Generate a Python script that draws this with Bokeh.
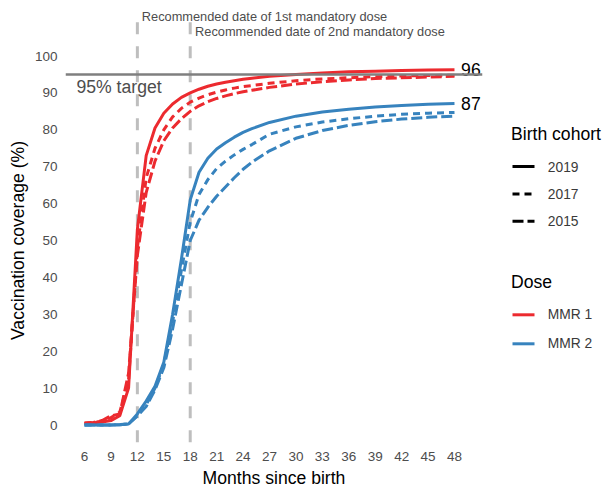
import math
from bokeh.plotting import figure
from bokeh.models import Range1d, Span, FixedTicker
from bokeh.layouts import row
from bokeh.core.properties import value
from bokeh.embed import file_html
from bokeh.resources import INLINE

# ---------------- data ----------------
months = [6, 7, 8, 9, 10, 11, 12, 13, 14, 15, 16, 17, 18, 19, 20, 21, 22, 23,
          24, 25, 27, 30, 33, 36, 39, 42, 45, 48]

mmr1_2019 = [0.5, 0.6, 0.8, 1.2, 2.5, 10, 53, 73, 80.5, 84.5, 87, 88.8, 90, 91,
             91.8, 92.4, 92.9, 93.3, 93.7, 94, 94.5, 95.0, 95.4, 95.7, 95.9,
             96.1, 96.2, 96.3]
mmr1_2017 = [0.5, 0.7, 1.0, 2.0, 3.5, 12, 48, 67, 75, 80, 83.5, 85.8, 87.5,
             88.6, 89.5, 90.2, 90.8, 91.3, 91.7, 92, 92.6, 93.3, 93.8, 94.1,
             94.4, 94.6, 94.7, 94.8]
mmr1_2015 = [0.5, 0.7, 1.2, 2.5, 3.0, 14, 46, 63, 71.5, 77, 80.5, 83, 85, 86.5,
             87.6, 88.5, 89.2, 89.8, 90.3, 90.7, 91.5, 92.4, 93, 93.5, 93.9,
             94.1, 94.3, 94.5]

mmr2_2019 = [0, 0, 0, 0, 0.1, 0.3, 3, 6.5, 10.5, 17, 30, 45, 61, 68.5, 72.3,
             74.8, 76.5, 78, 79.3, 80.3, 82, 83.7, 84.8, 85.6, 86.2, 86.6,
             86.9, 87.1]
mmr2_2017 = [0, 0, 0, 0, 0.1, 0.3, 2.5, 5.5, 10, 16.5, 28, 42, 55, 62.5, 66.5,
             69.5, 71.5, 73.2, 74.7, 76, 78.8, 80.8, 82.1, 83.0, 83.7, 84.2,
             84.5, 84.7]
mmr2_2015 = [0, 0, 0, 0, 0.1, 0.3, 2.5, 5, 9.5, 15.5, 26, 38, 50, 55.5, 59, 62,
             64.5, 67, 69.3, 71.2, 74.3, 77.7, 79.8, 81.2, 82.2, 82.9, 83.4,
             83.7]

cohorts = ["2019", "2017", "2015"]
doses = ["MMR 1", "MMR 2"]
target = 95
dose_months = [12, 18]
dose_notes = ["Recommended date of 1st mandatory dose",
              "Recommended date of 2nd mandatory dose"]
x_ticks = [6, 9, 12, 15, 18, 21, 24, 27, 30, 33, 36, 39, 42, 45, 48]
y_ticks = [0, 10, 20, 30, 40, 50, 60, 70, 80, 90, 100]

# ---------------- styles ----------------
FONT = "Liberation Sans"
dose_colors = {"MMR 1": "#EC2A2F", "MMR 2": "#3783BE"}
cohort_dash = {"2019": "solid", "2017": "7 5", "2015": "11 4"}

series = {
    ("MMR 1", "2019"): mmr1_2019, ("MMR 1", "2017"): mmr1_2017,
    ("MMR 1", "2015"): mmr1_2015, ("MMR 2", "2019"): mmr2_2019,
    ("MMR 2", "2017"): mmr2_2017, ("MMR 2", "2015"): mmr2_2015,
}

FH = 444  # frame height shared by all panels of the row

def bare(fig):
    fig.outline_line_color = None
    fig.grid.visible = False
    fig.background_fill_color = "white"
    fig.border_fill_color = "white"

# ---------------- y title panel ----------------
YT_W = 31
yt = figure(frame_width=YT_W, frame_height=FH, x_range=Range1d(0, YT_W),
            y_range=Range1d(0, FH), output_backend="svg",
            toolbar_location=None, x_axis_location=None,
            y_axis_location=None, min_border=0)
bare(yt)
yt.text(x=[17], y=[FH - 240], text=["Vaccination coverage (%)"],
        angle=math.pi / 2, text_font=value(FONT), text_font_size="17.6px",
        text_color="black", text_align="center", text_baseline="middle")

# ---------------- main panel ----------------
p = figure(frame_width=417, frame_height=FH,
           x_range=Range1d(3.84, 51.18), y_range=Range1d(-5.28, 115.04),
           output_backend="svg", toolbar_location=None,
           min_border_left=31, min_border_right=16, min_border_top=0,
           min_border_bottom=0)
bare(p)

p.xaxis.ticker = FixedTicker(ticks=x_ticks)
p.yaxis.ticker = FixedTicker(ticks=y_ticks)
for ax in (p.xaxis[0], p.yaxis[0]):
    ax.axis_line_color = None
    ax.major_tick_line_color = None
    ax.minor_tick_line_color = None
    ax.major_tick_out = 0
    ax.major_tick_in = 0
    ax.major_label_text_font = FONT
    ax.major_label_text_font_size = "13.5px"
    ax.major_label_text_color = "#4D4D4D"
p.xaxis.major_label_standoff = 7
p.yaxis.major_label_standoff = 8
p.xaxis.axis_label = "Months since birth"
p.xaxis.axis_label_text_font = FONT
p.xaxis.axis_label_text_font_size = "17.6px"
p.xaxis.axis_label_text_font_style = "normal"
p.xaxis.axis_label_text_color = "black"
p.xaxis.axis_label_standoff = 4

# reference lines
p.add_layout(Span(location=target, dimension="width", line_color="#7F7F7F",
                  line_width=2.5))
for m in dose_months:
    p.segment(x0=[m], y0=[109.16], x1=[m], y1=[-5.28], line_color="#BEBEBE",
              line_width=3, line_dash="12 12")

for (d, c), vals in series.items():
    p.line(months, vals, line_color=dose_colors[d], line_width=3,
           line_dash=cohort_dash[c])

# annotations
p.text(x=[dose_months[0] + 0.5], y=[110.6], text=[dose_notes[0]],
       text_font=value(FONT), text_font_size="12.8px", text_color="#4D4D4D",
       text_align="left", text_baseline="middle")
p.text(x=[dose_months[1] + 0.55], y=[106.6], text=[dose_notes[1]],
       text_font=value(FONT), text_font_size="12.8px", text_color="#4D4D4D",
       text_align="left", text_baseline="middle")
p.text(x=[5.09], y=[91.5], text=["95% target"], text_font=value(FONT),
       text_font_size="17.6px", text_color="#4D4D4D", text_align="left",
       text_baseline="middle")
end_vals = [mmr1_2019[-1], mmr2_2019[-1]]
p.text(x=[months[-1] + 0.75] * 2, y=end_vals,
       text=[str(round(v)) for v in end_vals], text_font=value(FONT),
       text_font_size="17.6px", text_color="black", text_align="left",
       text_baseline="middle")

# ---------------- legend panel ----------------
lg = figure(frame_width=106, frame_height=FH, x_range=Range1d(500, 606),
            y_range=Range1d(FH, 0), output_backend="svg",
            toolbar_location=None, x_axis_location=None,
            y_axis_location=None, min_border=0)
bare(lg)

lg.text(x=[512.5], y=[133.3], text=["Birth cohort"], text_font=value(FONT),
        text_font_size="17.6px", text_color="black", text_align="left",
        text_baseline="middle")
for i, c in enumerate(cohorts):
    yy = 166 + i * 27.4
    lg.segment(x0=[514], y0=[yy], x1=[536], y1=[yy], line_color="black",
               line_width=3, line_dash=cohort_dash[c])
    lg.text(x=[549.3], y=[yy], text=[c], text_font=value(FONT),
            text_font_size="13.8px", text_color="#3A3A3A", text_align="left",
            text_baseline="middle")

lg.text(x=[512.5], y=[281], text=["Dose"], text_font=value(FONT),
        text_font_size="17.6px", text_color="black", text_align="left",
        text_baseline="middle")
for i, d in enumerate(doses):
    yy = 314.3 + i * 29
    lg.segment(x0=[514], y0=[yy], x1=[536], y1=[yy],
               line_color=dose_colors[d], line_width=3)
    lg.text(x=[549.3], y=[yy], text=[d], text_font=value(FONT),
            text_font_size="13.8px", text_color="#3A3A3A", text_align="left",
            text_baseline="middle")

layout = row(yt, p, lg)
open("out.html", "w").write(file_html(layout, INLINE))
